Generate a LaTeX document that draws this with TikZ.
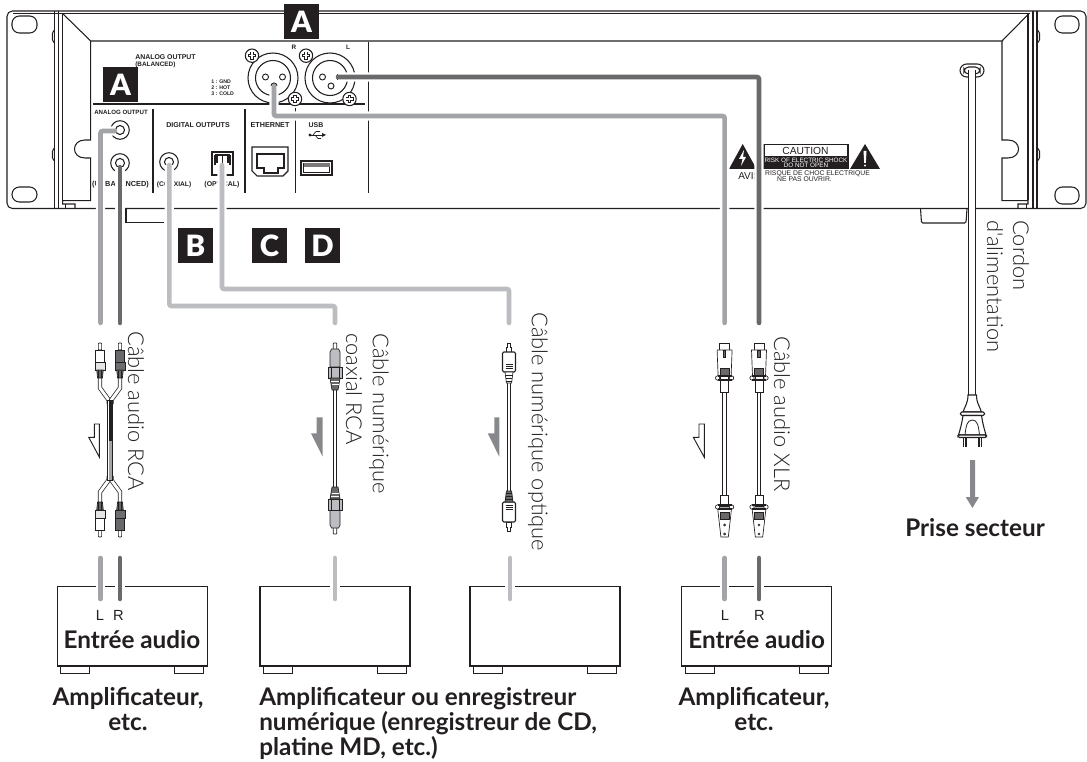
\documentclass[tikz,border=0pt]{standalone}
\usepackage{fontspec}
\setmainfont{Lato}
\newfontfamily\lightf{Lato Light}
\newfontfamily\boldf{Lato}[UprightFont=*-Bold]
\newfontfamily\arialf{Liberation Sans}
\newfontfamily\keyf{Lato Black}
\definecolor{wl}{HTML}{A3A4A7}
\definecolor{wd}{HTML}{69696B}
\definecolor{wc}{HTML}{BCBDC0}
\definecolor{ar}{HTML}{87888B}
\definecolor{txt}{HTML}{231F20}
\tikzset{
 thin line/.style={line width=.7pt,draw=txt},
 panel/.style={line width=.8pt,draw=txt},
 fine/.style={line width=.5pt,draw=txt},
 wire/.style={draw=#1,line width=3.4pt,rounded corners=1.5pt,line cap=round,
   preaction={draw=white,line width=7pt,line cap=butt}},
 cable/.style={line width=.55pt,draw=txt,double=white,double distance=2.2pt},
 keybox/.style={fill=txt,text=white,minimum size=26.25pt,inner sep=0pt,font=\keyf\fontsize{22}{22}\selectfont},
 lab/.style={inner sep=0pt,font=\arialf\fontsize{4.6}{5}\selectfont,text=txt},
 sidetxt/.style={rotate=-90,anchor=west,inner sep=0pt,font=\lightf\fontsize{16.4}{16.4}\selectfont,text=txt},
 captxt/.style={inner sep=0pt,font=\boldf\fontsize{18.2}{18.75}\selectfont,text=txt,align=center},
 ha/.style={fill=ar},
 hao/.style={fill=white,thin line},
 pics/screw/.style={code={
   \draw[panel,fill=white] (0,0) circle (6.7);
   \draw[txt,line width=2.6pt] (-4,0)--(4,0) (0,-4)--(0,4);
   \draw[white,line width=1.1pt] (-3.2,0)--(3.2,0) (0,-3.2)--(0,3.2);}},
 pics/rcaplug/.style={code={
   \draw[fine,fill=white,rounded corners=.5pt] (-1.6,0)--(-1.6,-7)--(1.6,-7)--(1.6,0)--cycle;
   \draw[fine,fill=#1] (-4.3,0) rectangle (4.3,12);
   \draw[fine,fill=#1!80!gray] (-5,12) rectangle (5,20);
   \draw[fine,fill=wd] (-3.3,20) -- (3.3,20) -- (2.4,28) -- (-2.4,28) -- cycle;
   \draw[fine] (-1.2,20)--(-1.2,28) (1.2,20)--(1.2,28);}},
 pics/coaxplug/.style={code={
   \draw[fine,fill=white,rounded corners=.5pt] (-1.8,0)--(-1.8,-9)--(1.8,-9)--(1.8,0)--cycle;
   \draw[fine,fill=wc] (-5,0) -- (-3.5,-3) -- (3.5,-3) -- (5,0) -- (5,15) -- (-5,15) -- cycle;
   \draw[fine,fill=wc] (-7,15) rectangle (7,26);
   \draw[fine] (-4,15)--(-4,26) (4,15)--(4,26);
   \draw[fine,fill=wd] (-5,26) -- (5,26) -- (3,38) -- (-3,38) -- cycle;
   \draw[white,line width=.4pt] (-4,29)--(4,29) (-3.5,32)--(3.5,32);}},
 pics/optplug/.style={code={
   \draw[fine,fill=white] (-2.6,0)--(-2.6,-5)--(-1.4,-5)--(-1.4,-9)--(1.4,-9)--(1.4,-5)--(2.6,-5)--(2.6,0)--cycle;
   \draw[panel,fill=white,rounded corners=1pt] (-6.5,0) rectangle (6.5,20);
   \draw[fine] (-3.5,12.5)--(3.5,12.5) (-3.5,14.5)--(3.5,14.5) (-3.5,16.5)--(3.5,16.5);
   \draw[fine,fill=#1] (-4,20) -- (4,20) -- (2.6,31) -- (-2.6,31) -- cycle;
   \draw[fine] (-3.6,23)--(3.6,23) (-3.2,26)--(3.2,26) (-3,29)--(3,29);}},
 pics/xlrtop/.style={code={
   \draw[fine,fill=white] (-5,0) rectangle (5,-7);
   \draw[fine,fill=white] (-7.5,0) -- (7.5,0) -- (6.5,26) -- (-6.5,26) -- cycle;
   \draw[fine,fill=white] (-4,26) rectangle (4,42);
   \draw[fine,fill=wd] (-1.2,0.5) rectangle (1.2,7);
   \draw[fine,fill=wd] (-4.3,18) rectangle (4.3,25);
   \draw[fine,fill=white] (-7,28) circle (2.2) (7,28) circle (2.2);
   \draw[panel] (-7,26) -- (7,26) (-7,30)--(7,30);}},
 pics/xlrbot/.style={code={
   \draw[fine,fill=white] (-4,0) rectangle (4,11);
   \draw[fine,fill=white] (-7,13) -- (7,13) -- (3.7,42) -- (-3.7,42) -- cycle;
   \draw[fine,fill=wd] (-4.3,17) rectangle (4.3,24);
   \draw[fine,fill=white] (-7,12) circle (2.2) (7,12) circle (2.2);
   \draw[panel] (-7,10) -- (7,10) (-7,14)--(7,14);
   \draw[fine] (0,30) circle (1) (0,39) circle (1);}},
 pics/devbox/.style={code={
   \draw[panel] (0,0) rectangle (150,79.3);
   \draw[panel] (3.5,79.3) -- (3.5,87) -- (32.5,87) -- (32.5,79.3);
   \draw[panel] (117.5,79.3) -- (117.5,87) -- (146.5,87) -- (146.5,79.3);}}
}
\begin{document}
\begin{tikzpicture}[x=.75pt,y=-.75pt]
\useasboundingbox (0,0) rectangle (1087,762);
% rack panel
\draw[panel,rounded corners=4pt] (7,11) rectangle (1086,208.5);
\draw[panel] (13,13.6) -- (1030,13.6);
\draw[panel] (54.7,11) -- (54.7,208.5) (58.9,11) -- (58.9,208.5) (62.7,13.6) -- (62.7,200);
\draw[panel] (1028,13.6) -- (1028,200) (1033,11) -- (1033,208.5) (1037,11) -- (1037,208.5);
\draw[panel] (62.7,13.6) -- (90.7,41) -- (1002,41) -- (1029,13.6);
\draw[panel] (90.7,41) -- (90.7,140) -- (85,140) .. controls (71,140) and (71,158) .. (85,158) -- (90.7,158) -- (90.7,200.7) -- (62.7,200.7) -- (62.7,204) -- (75,204) -- (75,208.5);
\draw[fine] (65,204) -- (65,208.5);
\draw[panel] (1002,41) -- (1002,140) -- (1008,140) .. controls (1022,140) and (1022,158) .. (1008,158) -- (1002,158) -- (1002,200.7) -- (1028,200.7) -- (1028,204) -- (1018,204) -- (1018,208.5);
\draw[fine] (1026,204) -- (1026,208.5);
% slots
\foreach \a/\b/\c/\d in {12/16/37/33,12/187/37/202,1055/16/1079/33,1055/187/1079/204}
  \draw[panel,rounded corners=5.5pt] (\a,\b) rectangle (\c,\d);
% side brackets
\foreach \y in {30,148}{
  \draw[panel,rounded corners=1pt] (54.7,\y) -- (52.5,\y+2) -- (52.5,\y+11) -- (54.7,\y+13);
  \draw[panel,rounded corners=1pt] (1037,\y) -- (1039.5,\y+2) -- (1039.5,\y+11) -- (1037,\y+13);
}
% feet
\draw[panel] (126,208.5) -- (126,222.5) -- (164,222.5);
\draw[panel,rounded corners=1pt] (920.5,208.5) -- (921.5,223) -- (966,223) -- (967,208.5);
% dividers
\draw[panel] (93,104) -- (365,104);
\draw[panel] (153,109) -- (153,193) (245,109) -- (245,193) (295.5,108) -- (295.5,193) (368.3,42) -- (368.3,193);
% panel labels
\node[lab,anchor=west,font=\arialf\fontsize{5.2}{5}\bfseries] (lbA1) at (135,57) {ANALOG OUTPUT};
\node[lab,anchor=west,font=\arialf\fontsize{4.8}{5}\bfseries] (lbA2) at (135,65) {(BALANCED)};
\node[lab,anchor=west,font=\arialf\fontsize{3.9}{4}\bfseries] (lbP1) at (211,82) {1 : GND};
\node[lab,anchor=west,font=\arialf\fontsize{3.9}{4}\bfseries] (lbP2) at (211,88) {2 : HOT};
\node[lab,anchor=west,font=\arialf\fontsize{3.9}{4}\bfseries] (lbP3) at (211,94) {3 : COLD};
\node[lab,font=\arialf\fontsize{4.8}{5}\bfseries] (lbR) at (294,47) {R};
\node[lab,font=\arialf\fontsize{4.8}{5}\bfseries] (lbL) at (348,47) {L};
\node[lab,anchor=west,font=\arialf\fontsize{4.6}{5}\bfseries] (lbB1) at (94,112.5) {ANALOG OUTPUT};
\node[lab,font=\arialf\fontsize{5.3}{5}\bfseries] (lbD) at (198,125.5) {DIGITAL OUTPUTS};
\node[lab,font=\arialf\fontsize{5.4}{5}\bfseries] (lbE) at (270,125.5) {ETHERNET};
\node[lab,font=\arialf\fontsize{5.2}{5}\bfseries] (lbU) at (316,125.5) {USB};
\node[lab,font=\arialf\fontsize{5.5}{5}\bfseries] (lbB2) at (120.5,184.5) {(UNBALANCED)};
\node[lab,font=\arialf\fontsize{5}{5}\bfseries] (lbC) at (174,184.5) {(COAXIAL)};
\node[lab,font=\arialf\fontsize{5.2}{5}\bfseries] (lbO) at (222,184.5) {(OPTICAL)};
% usb symbol
\draw[fine,line width=.7pt] (310,135) -- (324,135);
\fill[txt] (310,135) circle (1.6);
\fill[txt] (322,133) -- (326,135) -- (322,137) -- cycle;
\draw[fine] (313,135) -- (316,131.5) -- (320,131.5) (315,135) -- (318,138.5) -- (321,138.5);
% XLR jacks
\foreach \cx/\nm in {273/xr,330/xl}{
  \draw[panel,fill=white] (\cx,78) circle (25);
  \draw[panel] (\cx,78) circle (17.5);
  \draw[fine,line width=.7pt] (\cx-7.5,77) circle (3) (\cx+9.5,77) circle (3) (\cx+1,86) circle (3);
}
\pic at (252,55.7) {screw};
\pic at (295,99) {screw};
\pic at (306,55.7) {screw};
\pic at (349.5,99) {screw};
% RCA jacks
\foreach \cx/\cy in {120/130,120/163,169/162}{
  \draw[panel] (\cx,\cy) circle (9.3);
  \draw[panel] (\cx,\cy) circle (4.5);
}
% optical port
\draw[panel] (212,152) rectangle (233,175);
\draw[panel] (215,155) -- (215,165) (230,155) -- (230,165);
\draw[panel] (215,155) -- (230,155);
\draw[panel] (217,155) -- (217,163) (222.5,155) -- (222.5,163) (228,155) -- (228,163);
% ethernet port
\draw[panel] (252,147) -- (288,147) -- (288,171) -- (283,176) -- (257,176) -- (252,171) -- cycle;
\draw[panel] (257,154) -- (284,154) -- (284,168) -- (278,168) -- (278,173) -- (264,173) -- (264,168) -- (257,168) -- cycle;
% usb port
\draw[txt,line width=1.1pt] (301,161) rectangle (332,175);
\draw[fine] (303.5,163.5) rectangle (329.5,172.5);
\fill[txt!60] (303.5,163.5) rectangle (329.5,167);
% warning labels
\fill[txt] (742.7,144) -- (756.5,169) -- (729,169) -- cycle;
\fill[white] (744,150) -- (739,159) -- (742.5,159) -- (741,166) -- (746,157) -- (743,157) -- cycle;
\draw[panel,line width=1pt] (764,144.5) rectangle (848,168);
\fill[txt] (764,156) rectangle (848,168);
\node[lab,font=\arialf\fontsize{7.7}{8}\selectfont] (cau) at (805.5,151) {CAUTION};
\node[lab,text=white,font=\arialf\fontsize{4.75}{5}\selectfont] (cau1) at (806,160) {RISK OF ELECTRIC SHOCK};
\node[lab,text=white,font=\arialf\fontsize{4.75}{5}\selectfont] (cau2) at (806,165) {DO NOT OPEN};
\node[lab,font=\arialf\fontsize{5.1}{5}\selectfont] (ris1) at (817.5,173.5) {RISQUE DE CHOC ELECTRIQUE};
\node[lab,font=\arialf\fontsize{5.1}{5}\selectfont] (ris2) at (804.5,179.5) {NE PAS OUVRIR.};
\fill[txt] (865,144) -- (880,169) -- (850,169) -- cycle;
\fill[white] (863.5,151) -- (866.5,151) -- (865.8,163) -- (864.2,163) -- cycle;
\fill[white] (865,165.5) circle (1.1);
\node[lab,anchor=west,font=\arialf\fontsize{7.5}{8}\selectfont] (avis) at (738,176.5) {AVIS};
% power inlet
\draw[panel,rounded corners=5pt] (960,64) rectangle (984,77);
\draw[panel,rounded corners=3.5pt] (964,67) rectangle (980,74);
% named ports and free ends
\coordinate (jL) at (115,131);
\coordinate (jR) at (120,167);
\coordinate (jC) at (169.3,165);
\coordinate (jO) at (222,165);
\coordinate (xR) at (274,86);
\coordinate (xL) at (338,77);
\coordinate (cL) at (100.5,323);
\coordinate (cR) at (120,323);
\coordinate (cC) at (335,323);
\coordinate (cO) at (509,323);
\coordinate (cXR) at (724.6,323);
\coordinate (cXL) at (759,323);
% wires from the panel
\draw[wire=wl] (jL) -| (cL);
\draw[wire=wd] (jR) -- (cR);
\draw[wire=wc] (jC) |- ++(0,141) -| (cC);
\draw[wire=wc] (jO) |- ++(0,124) -| (cO);
\draw[wire=wl] (xR) |- ++(0,30) -| (cXR);
\draw[wire=wd] (xL) -| (cXL);
% power cord
\coordinate (pwTop) at (972.3,70);
\coordinate (pwEnd) at (972.3,396);
\draw[line width=.8pt,draw=txt,double=white,double distance=4.6pt] (pwTop) -- (pwEnd);
\draw[panel,fill=white] (968,395) .. controls (968,403) and (965,406) .. (963,412) -- (981.5,412) .. controls (979.5,406) and (976.5,403) .. (976.5,395) -- cycle;
\draw[panel,fill=white,rounded corners=1pt] (960.5,412) rectangle (984.5,415.5);
\draw[panel,fill=white] (963,415.5) .. controls (962,423) and (960,430) .. (958.5,435) -- (986,435) .. controls (984.5,430) and (982.5,423) .. (981.5,415.5) -- cycle;
\draw[panel,fill=white,rounded corners=1pt] (958,435) rectangle (986.5,437.5);
\draw[fine,line width=.6pt] (965,435) .. controls (966,426) and (967,420) .. (972.3,420) .. controls (977.5,420) and (978.5,426) .. (979.5,435);
\draw[fine,line width=.8pt] (963.5,437.5) -- (963.5,447) (966,437.5) -- (966,447) (979,437.5) -- (979,447) (981.5,437.5) -- (981.5,447);
% RCA cable
\draw[cable] (100,376) -- (100,388) -- (108.7,400) -- (108.7,404);
\draw[cable] (120,376) -- (120,388) -- (111.3,400) -- (111.3,404);
\draw[cable] (100,504) -- (100,492) -- (108.7,480) -- (108.7,476);
\draw[cable] (120,504) -- (120,492) -- (111.3,480) -- (111.3,476);
\draw[fine,fill=white] (107.5,400) rectangle (112.5,480);
\fill[txt] (108.5,400) rectangle (111.5,441);
\fill[wl] (108.5,441) rectangle (111.5,480);
\pic at (100,350) {rcaplug=white};
\pic at (120,350) {rcaplug=wd};
\pic[yscale=-1] at (100,530) {rcaplug=white};
\pic[yscale=-1] at (120,530) {rcaplug=wd};
% coaxial cable
\draw[cable] (335,388) -- (335,489);
\pic at (335,352) {coaxplug};
\pic[yscale=-1] at (335,525) {coaxplug};
% optical cable
\draw[cable] (509,381) -- (509,492);
\pic at (509,352) {optplug=white};
\pic[yscale=-1] at (509,522) {optplug=wd};
% XLR cables
\foreach \cx in {724.6,759}{
  \draw[cable] (\cx,390) -- (\cx,497);
  \pic at (\cx,350) {xlrtop};
  \pic at (\cx,495) {xlrbot};
}
% signal arrows
\draw[hao] (94.3,424) -- (99.3,424) -- (99.3,457) -- (88.7,437.3) -- (94.3,437.3) -- cycle;
\fill[ha] (316.7,417.3) -- (322.7,417.3) -- (322.7,456.7) -- (311,433.3) -- (316.7,433.3) -- cycle;
\fill[ha] (494.3,417.3) -- (499.3,417.3) -- (499.3,456.7) -- (487.7,433.3) -- (494.3,433.3) -- cycle;
\draw[hao] (699,424) -- (704.3,424) -- (704.3,457.3) -- (693.3,437.3) -- (699,437.3) -- cycle;
\fill[ar] (970,460) -- (975,460) -- (975,497) -- (979,497) -- (972.4,508) -- (965.7,497) -- (970,497) -- cycle;
% devices
\pic at (57.3,586.7) {devbox};
\pic at (260,586.7) {devbox};
\pic at (470,586.7) {devbox};
\pic at (681.7,586.7) {devbox};
% inputs
\coordinate (iL) at (100.5,558);
\coordinate (iR) at (120,558);
\coordinate (iC) at (335,558);
\coordinate (iO) at (510,558);
\coordinate (iXR) at (724.6,558);
\coordinate (iXL) at (759,558);
\draw[wire=wl] (iL) -- ++(0,41);
\draw[wire=wd] (iR) -- ++(0,41);
\draw[wire=wc] (iC) -- ++(0,41);
\draw[wire=wc] (iO) -- ++(0,41);
\draw[wire=wl] (iXR) -- ++(0,41);
\draw[wire=wd] (iXL) -- ++(0,41);
\foreach \n/\x/\t in {la/100/L,lb/118.5/R,lc/725/L,ld/759.5/R}
  \node[lab,font=\arialf\fontsize{11}{11}\selectfont] (\n) at (\x,615) {\t};
\node[captxt] (ea1) at (132,639.5) {Entrée audio};
\node[captxt] (ea2) at (756.7,639.5) {Entrée audio};
\node[captxt,anchor=north] (am1) at (128,687.5) {Amplificateur,\\etc.};
\node[captxt,anchor=north west,align=left] (am2) at (259,687.5) {Amplificateur ou enregistreur\\numérique (enregistreur de CD,\\platine MD, etc.)};
\node[captxt,anchor=north] (am3) at (754,687.5) {Amplificateur,\\etc.};
\node[captxt] (pr) at (975,528) {Prise secteur};
% rotated labels
\node[sidetxt] (s1) at (136,331) {Câble audio RCA};
\node[sidetxt] (s2) at (379,333) {Câble numérique};
\node[sidetxt] (s3) at (354,333) {coaxial RCA};
\node[sidetxt] (s4) at (538,312) {Câble numérique optique};
\node[sidetxt] (s5) at (782,336) {Câble audio XLR};
\node[sidetxt] (s6) at (1021,220) {Cordon};
\node[sidetxt] (s7) at (995,220) {d'alimentation};
% key letters
\node[keybox] (kA1) at (301.5,21.5) {A};
\node[keybox] (kA2) at (120.5,85) {A};
\node[keybox] (kB) at (195.5,245.5) {B};
\node[keybox] (kC) at (269.5,245.5) {C};
\node[keybox] (kD) at (322.5,245.5) {D};
\end{tikzpicture}
\end{document}
